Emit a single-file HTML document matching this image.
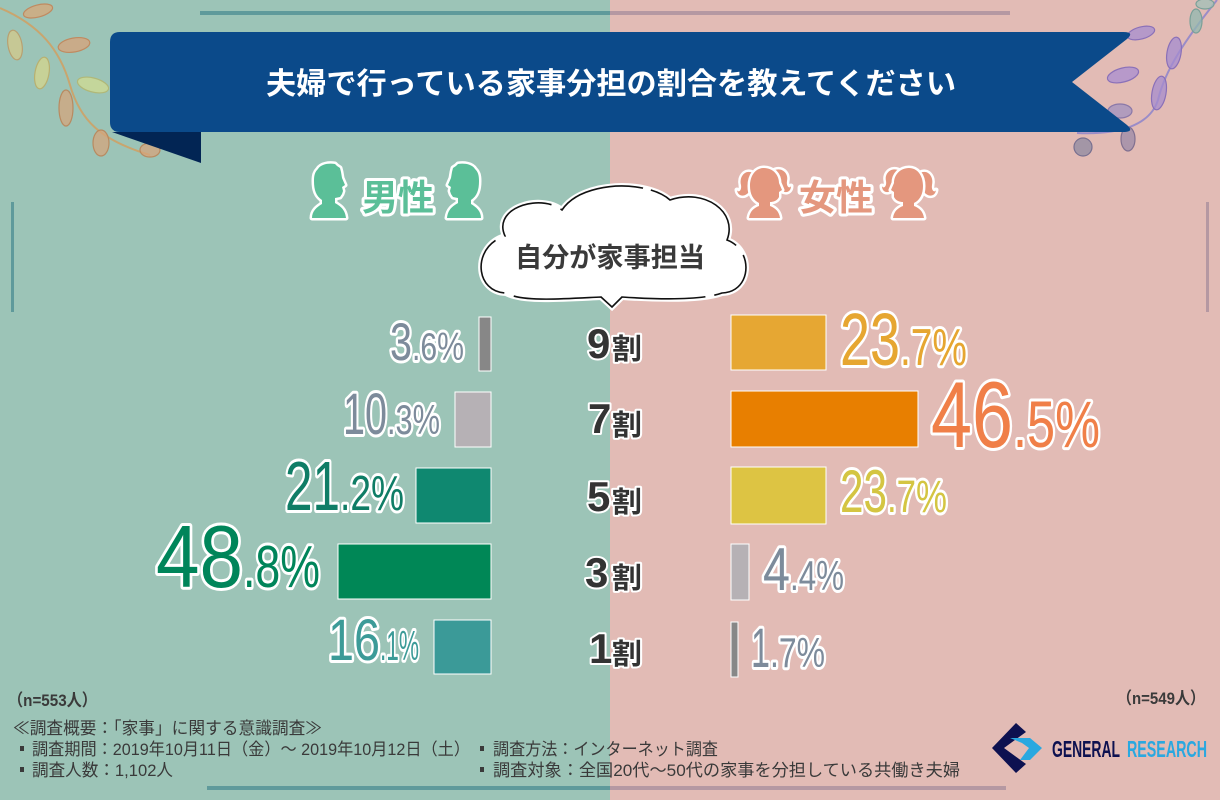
<!DOCTYPE html>
<html><head><meta charset="utf-8"><style>
html,body{margin:0;padding:0;width:1220px;height:800px;overflow:hidden;}
svg{display:block;}
.pct{font-family:"Liberation Sans","DejaVu Sans",sans-serif;stroke:#fff;stroke-width:6;paint-order:stroke;stroke-linejoin:round;}
.jp{font-family:"Liberation Sans","Noto Sans CJK JP",sans-serif;}
.cat{font-family:"Liberation Sans","Noto Sans CJK JP",sans-serif;font-weight:bold;fill:#333;stroke:#fff;stroke-width:4;paint-order:stroke;stroke-linejoin:round;}
.ft{font-family:"Liberation Sans","Noto Sans CJK JP",sans-serif;fill:#3a3a3a;font-size:17px;}
</style></head><body>
<svg width="1220" height="800" viewBox="0 0 1220 800" xmlns="http://www.w3.org/2000/svg">
<!-- backgrounds -->
<rect x="0" y="0" width="610" height="800" fill="#9cc4b7"/>
<rect x="610" y="0" width="610" height="800" fill="#e2bbb5"/>
<!-- top / bottom / side lines -->
<rect x="200" y="11" width="410" height="4" fill="#5f9a9b"/>
<rect x="610" y="11" width="400" height="4" fill="#b598a2"/>
<rect x="207" y="786" width="403" height="4" fill="#5f9a9b"/>
<rect x="610" y="786" width="396" height="4" fill="#b598a2"/>
<rect x="11" y="202" width="3" height="110" fill="#5f9a9b"/>
<rect x="1206" y="202" width="3" height="110" fill="#b598a2"/>

<!-- top-left vine -->
<g fill-opacity="0.75" stroke-width="1.2">
<path d="M0,8 C40,25 60,50 70,85 C80,120 100,140 150,155" fill="none" stroke="#c9a56e" stroke-width="2"/>
<ellipse cx="38" cy="11" rx="15" ry="6" transform="rotate(-15 38 11)" fill="#d8a878" stroke="#c08a60"/>
<ellipse cx="15" cy="45" rx="7" ry="15" transform="rotate(-10 15 45)" fill="#d4c98a" stroke="#b8a070"/>
<ellipse cx="74" cy="45" rx="16" ry="7" transform="rotate(-10 74 45)" fill="#d8a37a" stroke="#c08a60"/>
<ellipse cx="42" cy="73" rx="7" ry="16" transform="rotate(10 42 73)" fill="#d6d58c" stroke="#b8b070"/>
<ellipse cx="93" cy="85" rx="16" ry="7" transform="rotate(15 93 85)" fill="#d2dc92" stroke="#b0b878"/>
<ellipse cx="66" cy="108" rx="7" ry="18" fill="#d4a57c" stroke="#b88a60"/>
<ellipse cx="101" cy="143" rx="8" ry="13" fill="#d4a57c" stroke="#b88a60"/>
<ellipse cx="150" cy="150" rx="10" ry="7" fill="#d6a47c" stroke="#b88a60"/>
</g>
<!-- top-right vine -->
<g fill-opacity="0.75" stroke-width="1.2">
<path d="M1217,0 C1185,40 1165,70 1158,100 C1150,125 1120,135 1077,133" fill="none" stroke="#9a8cc8" stroke-width="2"/>
<ellipse cx="1196" cy="21" rx="6" ry="12" fill="#90b8b0" stroke="#7aa098"/>
<ellipse cx="1205" cy="4" rx="9" ry="5" fill="#a0c0b8" stroke="#7aa098"/>
<ellipse cx="1141" cy="33" rx="14" ry="6" transform="rotate(-15 1141 33)" fill="#a68dd0" stroke="#8a70b8"/>
<ellipse cx="1174" cy="53" rx="7" ry="16" transform="rotate(10 1174 53)" fill="#a48cd0" stroke="#8a70b8"/>
<ellipse cx="1123" cy="75" rx="16" ry="7" transform="rotate(-15 1123 75)" fill="#a88ed2" stroke="#8a70b8"/>
<ellipse cx="1159" cy="93" rx="7" ry="17" transform="rotate(10 1159 93)" fill="#a68cce" stroke="#8a70b8"/>
<ellipse cx="1120" cy="111" rx="12" ry="7" fill="#a092c0" stroke="#8a78a8"/>
<ellipse cx="1128" cy="139" rx="7" ry="12" fill="#9a8aa8" stroke="#807090"/>
<ellipse cx="1083" cy="147" rx="9" ry="9" fill="#8e8aa2" stroke="#787090"/>
</g>

<!-- banner -->
<polygon points="112,132 201,132 201,163" fill="#022554"/>
<path d="M120,32 L1123,32 Q1135,32 1127,39 L1072,82 L1127,125 Q1135,132 1123,132 L120,132 Q110,132 110,122 L110,42 Q110,32 120,32 Z" fill="#0b4a8a"/>
<text x="266" y="94" class="jp" font-size="30" font-weight="bold" fill="#fff" textLength="690" lengthAdjust="spacingAndGlyphs">夫婦で行っている家事分担の割合を教えてください</text>

<!-- male icons -->
<g fill="#5bbf98" stroke="#fff" stroke-width="5" paint-order="stroke" stroke-linejoin="round">
<g transform="translate(309,163)">
<path d="M9,6 C12,1 20,0 26,1 L28,3 L31,5 L32,9 L33,15 L36,22 L33,24 L34,28 L33,31 L31,34 L26,35 L26,40 C31,43 36,46 37,55 L3,55 C3,48 8,44 13,41 L13,37 C7,33 5,27 5,18 C5,12 6,9 9,6 Z"/>
</g>
<g transform="translate(484,163) scale(-1,1)">
<path d="M9,6 C12,1 20,0 26,1 L28,3 L31,5 L32,9 L33,15 L36,22 L33,24 L34,28 L33,31 L31,34 L26,35 L26,40 C31,43 36,46 37,55 L3,55 C3,48 8,44 13,41 L13,37 C7,33 5,27 5,18 C5,12 6,9 9,6 Z"/>
</g>
</g>
<text x="362" y="210" class="jp" font-size="36" font-weight="bold" fill="#5bbf98" stroke="#fff" stroke-width="6" paint-order="stroke" stroke-linejoin="round" textLength="72" lengthAdjust="spacingAndGlyphs">男性</text>

<!-- female icons -->
<g fill="#e4977e" stroke="#fff" stroke-width="5" paint-order="stroke" stroke-linejoin="round">
<g transform="translate(737,163)">
<path d="M16,10 C8,6 2,14 4,22 C5,28 1,30 0,27 C1,35 10,34 13,27 Z"/>
<path d="M36,8 C44,3 52,10 50,18 C49,24 53,26 54,23 C54,31 45,31 42,24 Z"/>
<path d="M27,5 C36,5 42,12 42,20 L45,27 L42,29 L42,34 C40,38 36,39 33,39 L33,43 C38,45 42,48 43,55 L12,55 C13,48 17,45 22,43 L22,40 C16,37 13,31 13,23 C13,12 19,5 27,5 Z"/>
</g>
<g transform="translate(936,163) scale(-1,1)">
<path d="M16,10 C8,6 2,14 4,22 C5,28 1,30 0,27 C1,35 10,34 13,27 Z"/>
<path d="M36,8 C44,3 52,10 50,18 C49,24 53,26 54,23 C54,31 45,31 42,24 Z"/>
<path d="M27,5 C36,5 42,12 42,20 L45,27 L42,29 L42,34 C40,38 36,39 33,39 L33,43 C38,45 42,48 43,55 L12,55 C13,48 17,45 22,43 L22,40 C16,37 13,31 13,23 C13,12 19,5 27,5 Z"/>
</g>
</g>
<text x="799" y="210" class="jp" font-size="36" font-weight="bold" fill="#e4977e" stroke="#fff" stroke-width="6" paint-order="stroke" stroke-linejoin="round" textLength="74" lengthAdjust="spacingAndGlyphs">女性</text>

<!-- cloud -->
<path d="M505,236 C492,208 540,193 562,210 C582,180 648,180 670,200 C705,188 738,212 727,240 C754,250 752,292 722,293 C700,301 652,299 622,297 L612,307 L601,297 C560,299 522,302 506,293 C474,292 472,246 505,236 Z" fill="#fff" stroke="#fff" stroke-width="6"/>
<path d="M505,236 C492,208 540,193 562,210 C582,180 648,180 670,200 C705,188 738,212 727,240 C754,250 752,292 722,293 C700,301 652,299 622,297 L612,307 L601,297 C560,299 522,302 506,293 C474,292 472,246 505,236 Z" fill="#fff" stroke="#111" stroke-width="1.6" stroke-dasharray="70 10 90 8 120 12 60 9 200 10"/>
<text x="515" y="267" class="jp" font-size="27" font-weight="bold" fill="#3a3a3a" textLength="190" lengthAdjust="spacingAndGlyphs">自分が家事担当</text>

<!-- left bars -->
<g stroke="#fff" stroke-width="1">
<rect x="479" y="317" width="12" height="54" fill="#878787"/>
<rect x="455" y="392" width="36" height="55" fill="#b6b1b5"/>
<rect x="416" y="468" width="75" height="55" fill="#0f8870"/>
<rect x="338" y="544" width="153" height="55" fill="#008756"/>
<rect x="434" y="620" width="57" height="54" fill="#3b9a98"/>
</g>
<!-- right bars -->
<g stroke="#fff" stroke-width="1">
<rect x="731" y="315" width="95" height="55" fill="#e6a733"/>
<rect x="731" y="391" width="187" height="56" fill="#e87f00"/>
<rect x="731" y="467" width="95" height="57" fill="#ddc443"/>
<rect x="731" y="544" width="18" height="56" fill="#b6b1b5"/>
<rect x="731" y="622" width="7" height="55" fill="#878787"/>
</g>

<!-- left labels -->
<g class="pct">
<g fill="#7d8b9b">
<text x="390" y="360" font-size="53" textLength="22" lengthAdjust="spacingAndGlyphs">3</text>
<text x="412" y="360" font-size="39" textLength="52" lengthAdjust="spacingAndGlyphs">.6%</text>
<text x="343" y="434" font-size="58" textLength="44" lengthAdjust="spacingAndGlyphs">10</text>
<text x="387" y="434" font-size="42" textLength="53" lengthAdjust="spacingAndGlyphs">.3%</text>
</g>
<g fill="#0f7d66">
<text x="285" y="510" font-size="70" textLength="55" lengthAdjust="spacingAndGlyphs">21</text>
<text x="340" y="510" font-size="49" textLength="64" lengthAdjust="spacingAndGlyphs">.2%</text>
</g>
<g fill="#00855a">
<text x="156" y="587" font-size="88" textLength="87" lengthAdjust="spacingAndGlyphs">48</text>
<text x="243" y="587" font-size="59" textLength="77" lengthAdjust="spacingAndGlyphs">.8%</text>
</g>
<g fill="#3c9b98">
<text x="328" y="660" font-size="58" textLength="52" lengthAdjust="spacingAndGlyphs">16</text>
<text x="380" y="660" font-size="42" textLength="39" lengthAdjust="spacingAndGlyphs">.1%</text>
</g>
</g>

<!-- right labels -->
<g class="pct">
<g fill="#e6a631">
<text x="840" y="365" font-size="74" textLength="60" lengthAdjust="spacingAndGlyphs">23</text>
<text x="900" y="365" font-size="52" textLength="67" lengthAdjust="spacingAndGlyphs">.7%</text>
</g>
<g fill="#f07f48">
<text x="931" y="447" font-size="94" textLength="82" lengthAdjust="spacingAndGlyphs">46</text>
<text x="1013" y="447" font-size="66" textLength="87" lengthAdjust="spacingAndGlyphs">.5%</text>
</g>
<g fill="#d4c542">
<text x="840" y="512" font-size="60" textLength="47" lengthAdjust="spacingAndGlyphs">23</text>
<text x="887" y="512" font-size="45" textLength="60" lengthAdjust="spacingAndGlyphs">.7%</text>
</g>
<g fill="#7d8b9b">
<text x="763" y="590" font-size="60" textLength="27" lengthAdjust="spacingAndGlyphs">4</text>
<text x="790" y="590" font-size="42" textLength="54" lengthAdjust="spacingAndGlyphs">.4%</text>
<text x="751" y="667" font-size="56" textLength="19" lengthAdjust="spacingAndGlyphs">1</text>
<text x="770" y="667" font-size="42" textLength="55" lengthAdjust="spacingAndGlyphs">.7%</text>
</g>
</g>

<!-- category labels -->
<g class="cat">
<text x="587" y="358" font-size="42">9</text><text x="612" y="359" font-size="29" textLength="30" lengthAdjust="spacingAndGlyphs">割</text>
<text x="588" y="433" font-size="42">7</text><text x="612" y="435" font-size="29" textLength="30" lengthAdjust="spacingAndGlyphs">割</text>
<text x="587" y="511" font-size="42">5</text><text x="612" y="512" font-size="29" textLength="30" lengthAdjust="spacingAndGlyphs">割</text>
<text x="585" y="587" font-size="42">3</text><text x="612" y="588" font-size="29" textLength="30" lengthAdjust="spacingAndGlyphs">割</text>
<text x="589" y="663" font-size="42">1</text><text x="612" y="664" font-size="29" textLength="30" lengthAdjust="spacingAndGlyphs">割</text>
</g>

<!-- footer -->
<text class="ft" x="8" y="706" font-size="18" font-weight="bold" textLength="89" lengthAdjust="spacingAndGlyphs">（n=553人）</text>
<text class="ft" x="1117" y="704" font-size="18" font-weight="bold" textLength="88" lengthAdjust="spacingAndGlyphs">（n=549人）</text>
<text class="ft" x="13" y="734" textLength="309" lengthAdjust="spacingAndGlyphs">≪調査概要：「家事」に関する意識調査≫</text>
<rect x="20" y="746" width="4" height="5" fill="#3a3a3a"/>
<text class="ft" x="32" y="755" textLength="438" lengthAdjust="spacingAndGlyphs">調査期間：2019年10月11日（金）～ 2019年10月12日（土）</text>
<rect x="20" y="767" width="4" height="5" fill="#3a3a3a"/>
<text class="ft" x="32" y="776" textLength="141" lengthAdjust="spacingAndGlyphs">調査人数：1,102人</text>
<rect x="480" y="746" width="4" height="5" fill="#3a3a3a"/>
<text class="ft" x="493" y="755" textLength="225" lengthAdjust="spacingAndGlyphs">調査方法：インターネット調査</text>
<rect x="480" y="767" width="4" height="5" fill="#3a3a3a"/>
<text class="ft" x="493" y="776" textLength="467" lengthAdjust="spacingAndGlyphs">調査対象：全国20代～50代の家事を分担している共働き夫婦</text>

<!-- logo -->
<polygon points="1016,723 1026,732 1004,748 1026,764 1016,773 992,748" fill="#0d1150"/>
<polygon points="1010,738 1030,738 1042,748 1030,760 1020,760 1029,748 1022,743" fill="#2aa8e0"/>
<text x="1052" y="757" font-family="Liberation Sans, sans-serif" font-weight="bold" font-size="23" fill="#0d1150" textLength="68" lengthAdjust="spacingAndGlyphs">GENERAL</text>
<text x="1127" y="757" font-family="Liberation Sans, sans-serif" font-weight="bold" font-size="23" fill="#2aa8e0" textLength="80" lengthAdjust="spacingAndGlyphs">RESEARCH</text>
</svg>
</body></html>
